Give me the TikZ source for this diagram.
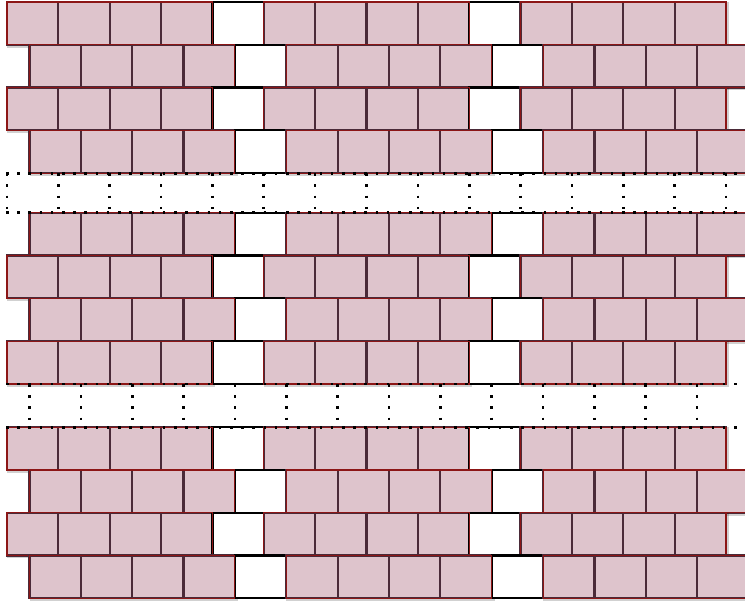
\documentclass[tikz,border=0pt]{standalone}
\definecolor{brickfill}{RGB}{222,196,204}
\definecolor{brickline}{RGB}{74,42,56}
\definecolor{groupline}{RGB}{140,22,22}
\tikzset{
  brick/.style={fill=brickfill, draw=brickline, line width=2.2pt},
  gapcell/.style={fill=white, draw=black, line width=2.2pt},
  grpedge/.style={draw=groupline, line width=1.1pt},
  shade/.style={draw=black, opacity=0.18, line width=2.8pt},
  dotline/.style={draw=black, line width=2.6pt, line cap=butt, dash pattern=on 2.6pt off 8.6pt}
}
\def\W{51.357}
\begin{document}
\begin{tikzpicture}[x=1pt,y=-1pt]
\useasboundingbox (0,0) rectangle (745,603);
\clip (0,0) rectangle (745,603);
% rows: top / bottom / start x
\foreach \ya/\yb/\xs in {2/44.75/7, 44.75/87.5/29.5, 87.5/130.25/7, 130.25/173.2/29.5,
                         212.7/255.5/29.5, 255.5/298.3/7, 298.3/341.1/29.5, 341.1/384/7,
                         427.3/470/7, 470/512.8/29.5, 512.8/555.5/7, 555.5/598.3/29.5}{
  % soft shadow of each group
  \foreach \g in {0,1,2}{
    \draw[shade] ({\xs+\g*5*\W+1.5},{\ya+1.5}) rectangle ({\xs+(\g*5+4)*\W+1.5},{\yb+1.5});
  }
  \foreach \k in {0,...,13}{
    \pgfmathtruncatemacro\m{mod(\k,5)}
    \ifnum\m=4
      \draw[gapcell] ({\xs+\k*\W},\ya) rectangle ({\xs+(\k+1)*\W},\yb);
    \else
      \draw[brick] ({\xs+\k*\W},\ya) rectangle ({\xs+(\k+1)*\W},\yb);
    \fi
  }
  \foreach \g in {0,1,2}{
    \draw[grpedge] ({\xs+\g*5*\W},\ya) rectangle ({\xs+(\g*5+4)*\W},\yb);
  }
}
% dotted band 1
\draw[dotline] (6,173.2) -- (745,173.2);
\draw[dotline] (6,212.7) -- (745,212.7);
\foreach \k in {0,...,14}{
  \draw[dotline] ({7+\k*\W},173.2) -- ({7+\k*\W},212.7);
}
% dotted band 2
\draw[dotline] (6,384) -- (745,384);
\draw[dotline] (6,427.3) -- (745,427.3);
\foreach \k in {0,...,13}{
  \draw[dotline] ({29.5+\k*\W},384) -- ({29.5+\k*\W},427.3);
}
\end{tikzpicture}
\end{document}
